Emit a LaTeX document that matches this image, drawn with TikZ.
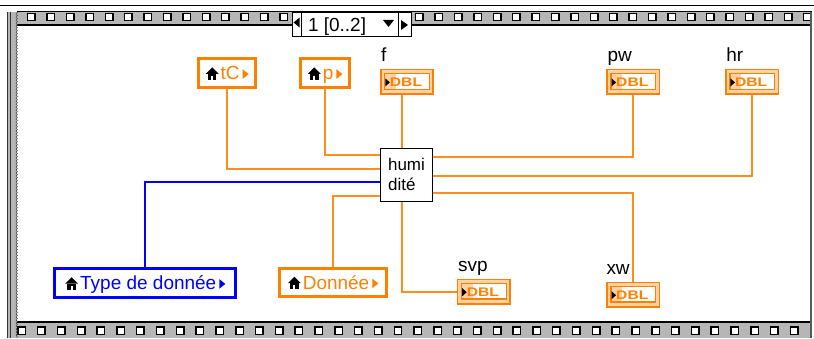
\documentclass[tikz,border=0pt]{standalone}
\usepackage{fontspec}
\usepackage{graphicx}
\setmainfont{Liberation Sans}
\usetikzlibrary{decorations.pathmorphing}

\definecolor{lvorange}{RGB}{255,128,0}
\definecolor{lvwire}{RGB}{255,140,30}
\definecolor{lvpeach}{RGB}{255,210,165}
\definecolor{lvblue}{RGB}{0,0,255}
\definecolor{lvband}{RGB}{182,182,182}

\newcommand{\lvfont}{\fontsize{19}{22}\selectfont}
\newcommand{\homeicon}{\tikz[x=1pt,y=1pt,baseline=0pt]{%
  \fill[black] (-0.5,6)--(6,12.5)--(12.5,6)--cycle;
  \fill[black] (1.8,0) rectangle (10.2,6.2);
  \fill[white] (5,0) rectangle (7,3.8);}}
\newcommand{\arrowtri}[1]{\tikz[x=1pt,y=1pt,baseline=0pt]\fill[#1] (0,1)--(6,5.8)--(0,10.6)--cycle;}
\newcommand{\ctrltext}[2]{\homeicon\hspace{2pt}#1\hspace{3pt}\arrowtri{#2}}

% indicateur DBL : nom, position
\newcommand{\dblind}[2]{%
  \node[ind] (#1) at (#2) {};
  \fill[white] ([shift={(4.7,5.7)}]#1.south west) rectangle ([shift={(-4.7,-4.7)}]#1.north east);
  \fill[lvpeach] ([shift={(4.7,5.7)}]#1.south west) rectangle ([shift={(16,-4.7)}]#1.north west);
  \draw[lvorange, line width=1.3pt] ([shift={(4.7,5.7)}]#1.south west) rectangle ([shift={(-4.7,-4.7)}]#1.north east);
  \fill[black] ([shift={(5.3,-9.5)}]#1.north west) -- ++(4.5,-4) -- ++(-4.5,-4) -- cycle;
  \node[dbltxt] (#1-t) at ([xshift=-1]#1.center) {\scalebox{1.25}[1]{DBL}};
}

\begin{document}
\begin{tikzpicture}[x=1pt,y=1pt,
  ctrl/.style={draw=lvorange, line width=3pt, fill=white, text=lvorange, inner sep=0pt,
    text height=14pt, text depth=0pt, font=\lvfont},
  ind/.style={draw=lvorange, line width=1.5pt, fill=lvpeach, inner sep=0pt,
    minimum width=52.5pt, minimum height=24.5pt},
  dbltxt/.style={text=lvorange, inner sep=0pt, font=\fontsize{12.5}{12.5}\selectfont\bfseries},
  lbl/.style={inner sep=0pt, font=\lvfont},
  subvi/.style={draw=black, line width=1pt, fill=white, minimum width=52pt, minimum height=53pt,
    inner sep=0pt, align=left, font=\fontsize{17}{20}\selectfont},
  wire/.style={lvwire, line width=1.6pt},
  bluewire/.style={lvblue, line width=1.6pt}]

% cadre de la sequence
\fill[white] (0,0) rectangle (814,338);
\draw[line width=0.8pt] (0,333) -- (814,333);
\fill[lvband] (17,313) rectangle (812,326.3);
\draw[line width=0.8pt] (17,326.3) -- (812,326.3);
\draw[line width=1.8pt] (17,313) -- (812,313);
\foreach \k in {0,...,40}
  \draw[line width=1.5pt, fill=white] ({27.3+19.42*\k},317.3) rectangle ++(7.5,7.4);
\fill[lvband] (17,0) rectangle (812,16);
\draw[line width=1.8pt] (17,16) -- (812,16);
\foreach \k in {-1,...,38}
  \draw[line width=1.5pt, fill=white] ({37.3+19.83*\k},3.3) rectangle ++(7.5,7.5);
\fill[lvband] (7,0) rectangle (16.5,326.3);
\draw[line width=1.2pt, black!80] (7.3,0) -- (7.3,326.3);
\draw[line width=0.8pt, black!80] (10.3,0) -- (10.3,326.3);
\draw[black!80, decorate, decoration={zigzag, segment length=3pt, amplitude=0.8pt}] (16.3,326) -- (16.3,0);
\draw[line width=2.2pt, black!65] (811,0) -- (811,326.3);

% selecteur de sous-diagramme
\node[draw, line width=1pt, fill=white, minimum width=119pt, minimum height=24pt, inner sep=0pt] (sel) at (352,313.8) {};
\node[lbl, anchor=base] (selnum) at (337,306.5) {1 [0..2]};
\fill (299.5,320.5) -- (293.5,315.5) -- (299.5,310.5) -- cycle;
\draw[line width=0.8pt] ([xshift=9.7]sel.north west) -- ([xshift=9.7]sel.south west);
\fill (383,318) -- (394,318) -- (388.5,311) -- cycle;
\draw[line width=0.8pt] ([xshift=-13.5]sel.north east) -- ([xshift=-13.5]sel.south east);
\fill (401,318) -- (408,313) -- (401,308) -- cycle;

% commandes
\node[ctrl, minimum width=57pt, minimum height=29pt] (tC) at (227,265) {\ctrltext{tC}{lvorange}};
\node[ctrl, minimum width=49pt, minimum height=29pt] (p) at (325,265) {\ctrltext{p}{lvorange}};
\node[ctrl, draw=lvblue, text=lvblue, minimum width=181pt, minimum height=29pt] (type) at (145,55) {\ctrltext{Type de donnée}{lvblue}};
\node[ctrl, minimum width=107pt, minimum height=28pt] (donnee) at (333,55.5) {\ctrltext{Donnée}{lvorange}};

% sous-VI
\node[subvi] (hum) at (406.5,163) {humi\\dité};

% indicateurs
\dblind{f}{407,256}
\dblind{pw}{633.5,256}
\dblind{hr}{752.5,256}
\dblind{svp}{484,46}
\dblind{xw}{633.5,43}
\node[lbl, anchor=base west] (lf) at ([shift={(1,7)}]f.north west) {f};
\node[lbl, anchor=base west] (lpw) at ([shift={(1,7)}]pw.north west) {pw};
\node[lbl, anchor=base west] (lhr) at ([shift={(1,7)}]hr.north west) {hr};
\node[lbl, anchor=base west] (lsvp) at ([shift={(1,7)}]svp.north west) {svp};
\node[lbl, anchor=base west] (lxw) at ([shift={(0,7)}]xw.north west) {xw};

% fils
\draw[wire] (tC) |- ([yshift=6]hum.west);
\draw[wire] (p) |- ([yshift=20]hum.west);
\draw[bluewire] (type) |- ([yshift=-7]hum.west);
\draw[wire] (donnee) |- ([yshift=-21]hum.west);
\draw[wire] ([xshift=-4.5]hum.north) -- ([xshift=-4.5]hum.north |- f.south);
\draw[wire] ([yshift=18]hum.east) -| (pw);
\draw[wire] ([yshift=-1]hum.east) -| (hr);
\draw[wire] ([yshift=-18]hum.east) -| (xw);
\draw[wire] ([xshift=-4.5]hum.south) |- (svp);
\end{tikzpicture}
\end{document}
